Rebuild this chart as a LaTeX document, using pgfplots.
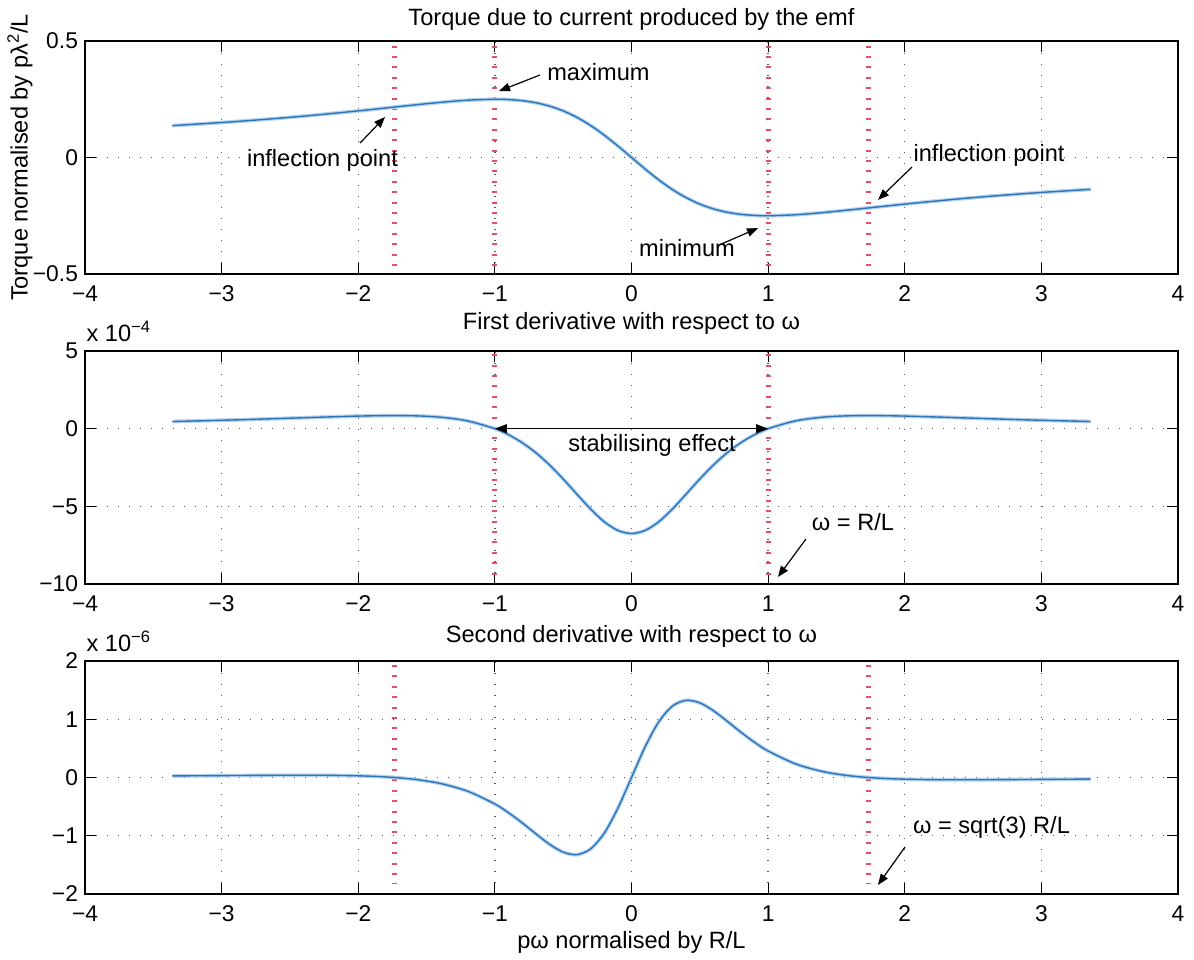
\documentclass[border=0pt]{standalone}
\usepackage{fontspec}
\setmainfont{Liberation Sans}
\usepackage{pgfplots}
\pgfplotsset{compat=1.18}
\usepackage{pgfplotstable}
\usetikzlibrary{arrows.meta}

\definecolor{curve}{RGB}{45,115,185}
\definecolor{halo}{RGB}{180,212,240}
\definecolor{marker}{RGB}{226,80,102}

% Torque normalised by p lambda^2/L
\pgfplotstableread{
x y
-3.36 0.1367
-3.0 0.1500
-2.8 0.1584
-2.6 0.1675
-2.4 0.1775
-2.2 0.1884
-2.0 0.2000
-1.8 0.2123
-1.6 0.2247
-1.4 0.2365
-1.2 0.2459
-1.0 0.2500
-0.9 0.2486
-0.8 0.2439
-0.7 0.2349
-0.6 0.2206
-0.5 0.2000
-0.4 0.1724
-0.3 0.1376
-0.2 0.0962
-0.1 0.0495
0 0
0.1 -0.0495
0.2 -0.0962
0.3 -0.1376
0.4 -0.1724
0.5 -0.2000
0.6 -0.2206
0.7 -0.2349
0.8 -0.2439
0.9 -0.2486
1.0 -0.2500
1.2 -0.2459
1.4 -0.2365
1.6 -0.2247
1.8 -0.2123
2.0 -0.2000
2.2 -0.1884
2.4 -0.1775
2.6 -0.1675
2.8 -0.1584
3.0 -0.1500
3.36 -0.1367
}\torque

% First derivative, in units of 1e-4
\pgfplotstableread{
x y
-3.36 0.460
-3.0 0.540
-2.8 0.591
-2.6 0.646
-2.4 0.703
-2.2 0.760
-2.0 0.810
-1.8 0.841
-1.6 0.831
-1.4 0.740
-1.2 0.499
-1.0 0
-0.9 -0.392
-0.8 -0.904
-0.7 -1.551
-0.6 -2.336
-0.5 -3.240
-0.4 -4.214
-0.3 -5.170
-0.2 -5.991
-0.1 -6.551
0 -6.750
0.1 -6.551
0.2 -5.991
0.3 -5.170
0.4 -4.214
0.5 -3.240
0.6 -2.336
0.7 -1.551
0.8 -0.904
0.9 -0.392
1.0 0
1.2 0.499
1.4 0.740
1.6 0.831
1.8 0.841
2.0 0.810
2.2 0.760
2.4 0.703
2.6 0.646
2.8 0.591
3.0 0.540
3.36 0.460
}\firstder

% Second derivative, in units of 1e-6
\pgfplotstableread{
x y
-3.36 0.0273
-3.0 0.0328
-2.8 0.0357
-2.6 0.0381
-2.4 0.0390
-2.2 0.0370
-2.0 0.0291
-1.8 0.0103
-1.6 -0.0284
-1.4 -0.1022
-1.2 -0.2345
-1.0 -0.4550
-0.9 -0.6050
-0.8 -0.7790
-0.7 -0.9667
-0.6 -1.1461
-0.5 -1.2813
-0.4 -1.3246
-0.3 -1.2269
-0.2 -0.9578
-0.1 -0.5282
0 0
0.1 0.5282
0.2 0.9578
0.3 1.2269
0.4 1.3246
0.5 1.2813
0.6 1.1461
0.7 0.9667
0.8 0.7790
0.9 0.6050
1.0 0.4550
1.2 0.2345
1.4 0.1022
1.6 0.0284
1.8 -0.0103
2.0 -0.0291
2.2 -0.0370
2.4 -0.0390
2.6 -0.0381
2.8 -0.0357
3.0 -0.0328
3.36 -0.0273
}\secondder

\tikzset{
  note/.style={font=\fontsize{11.8}{14}\selectfont, inner sep=0pt},
  pointer/.style={-{Triangle[length=5.5pt,width=4.2pt]}, line width=0.6pt, black},
}

\pgfplotsset{
  panel/.style={
    scale only axis, width=546.5pt, height=116.5pt,
    clip=false,
    xmin=-4, xmax=4,
    xtick={-4,-3,-2,-1,0,1,2,3,4},
    xticklabels={−4,−3,−2,−1,0,1,2,3,4},
    tick align=inside, major tick length=5.5pt,
    axis line style={line width=0.75pt},
    every tick/.style={black, line width=0.6pt},
    grid=major,
    major grid style={black!65, line width=0.7pt, dash pattern=on 0.7pt off 4.8pt},
    tick label style={font=\fontsize{11.4}{13}\selectfont},
    xticklabel style={yshift=-2.4pt},
    title style={font=\fontsize{11.8}{14}\selectfont, anchor=center, at={(axis description cs:0.5,1)}},
    label style={font=\fontsize{11.8}{14}\selectfont},
  },
  curvehalo/.style={halo, line width=1.9pt, smooth, no marks},
  curveline/.style={curve, line width=0.7pt, smooth, no marks},
  markerline/.style={marker, line width=2.4pt, dash pattern=on 1pt off 4.2pt, no marks},
}

\begin{document}
\begin{tikzpicture}
\useasboundingbox (0,0) rectangle (597pt,479.5pt);

% Torque
\begin{axis}[panel, at={(42.5pt,342.5pt)}, anchor=south west,
  ymin=-0.5, ymax=0.5, ytick={-0.5,0,0.5}, yticklabels={−0.5,0,0.5},
  title={Torque due to current produced by the emf},
  title style={yshift=5pt},
  ylabel={Torque normalised by pλ\textsuperscript{2}/L},
  ylabel style={at={(axis description cs:-0.0595,0.5)}, anchor=center},
]
\addplot[markerline] coordinates {(-1.7321,0.48) (-1.7321,-0.48)};
\addplot[markerline] coordinates {(-1,0.48) (-1,-0.48)};
\addplot[markerline] coordinates {(1,0.48) (1,-0.48)};
\addplot[markerline] coordinates {(1.7321,0.48) (1.7321,-0.48)};
\addplot[curvehalo] table {\torque};
\addplot[curveline] table {\torque};
\node[note, anchor=west] at (axis cs:-0.619,0.367) {maximum};
\draw[pointer] (axis cs:-0.670,0.354) -- (axis cs:-0.970,0.285);
\node[note] at (axis cs:-2.262,-0.011) {inflection point};
\draw[pointer] (axis cs:-1.987,0.062) -- (axis cs:-1.804,0.174);
\node[note] at (axis cs:2.617,0.011) {inflection point};
\draw[pointer] (axis cs:2.053,-0.041) -- (axis cs:1.804,-0.182);
\node[note] at (axis cs:0.406,-0.388) {minimum};
\draw[pointer] (axis cs:0.640,-0.376) -- (axis cs:0.926,-0.303);
\end{axis}

% First derivative
\begin{axis}[panel, at={(42.5pt,187.5pt)}, anchor=south west,
  ymin=-10, ymax=5, ytick={-10,-5,0,5}, yticklabels={−10,−5,0,5},
  title={First derivative with respect to ω},
  title style={yshift=8pt},
]
\addplot[markerline] coordinates {(-1,4.8) (-1,-9.4)};
\addplot[markerline] coordinates {(1,4.8) (1,-9.4)};
\addplot[curvehalo] table {\firstder};
\addplot[curveline] table {\firstder};
\draw[{Triangle[length=6pt,width=4.4pt]}-{Triangle[length=6pt,width=4.4pt]}, line width=0.7pt, black]
  (axis cs:-1,0) -- (axis cs:1,0);
\node[note] at (axis cs:0.150,-1.05) {stabilising effect};
\node[note] at (axis cs:1.621,-6.01) {ω = R/L};
\draw[pointer] (axis cs:1.277,-7.10) -- (axis cs:1.072,-9.55);
\node[note, anchor=base west, yshift=4.8pt, xshift=0.6pt] at (axis description cs:0,1) {x 10\textsuperscript{−4}};
\end{axis}

% Second derivative
\begin{axis}[panel, at={(42.5pt,32.5pt)}, anchor=south west,
  ymin=-2, ymax=2, ytick={-2,-1,0,1,2}, yticklabels={−2,−1,0,1,2},
  title={Second derivative with respect to ω},
  title style={yshift=6.5pt},
  xlabel={pω normalised by R/L},
  xlabel style={at={(axis description cs:0.5,0)}, anchor=center, yshift=-24pt},
]
\addplot[markerline] coordinates {(-1.7321,1.93) (-1.7321,-1.83)};
\addplot[markerline] coordinates {(1.7321,1.93) (1.7321,-1.83)};
\addplot[curvehalo] table {\secondder};
\addplot[curveline] table {\secondder};
\node[note] at (axis cs:2.635,-0.85) {ω = sqrt(3) R/L};
\draw[pointer] (axis cs:2.002,-1.193) -- (axis cs:1.804,-1.845);
\node[note, anchor=base west, yshift=4.8pt, xshift=0.6pt] at (axis description cs:0,1) {x 10\textsuperscript{−6}};
\end{axis}
\end{tikzpicture}
\end{document}
